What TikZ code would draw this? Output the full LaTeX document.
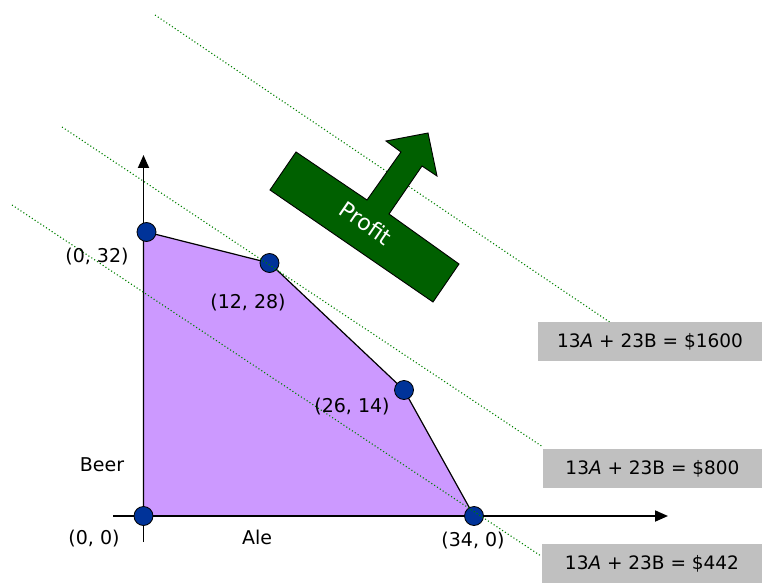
\documentclass[tikz,border=0pt]{standalone}
\usepackage{fontspec}
\setmainfont{DejaVu Sans}
\usetikzlibrary{arrows.meta}
\definecolor{feas}{HTML}{CC99FF}
\definecolor{ptblue}{HTML}{003399}
\definecolor{profitgreen}{HTML}{006000}
\definecolor{boxgray}{HTML}{C0C0C0}
\definecolor{dotgreen}{HTML}{008000}
\begin{document}
\begin{tikzpicture}[x=1pt,y=-1pt,
  vertex/.style={circle,draw=black,fill=ptblue,minimum size=19pt,inner sep=0pt,line width=0.8pt},
  lbl/.style={font=\fontsize{19}{22}\selectfont,inner sep=0pt},
  eqbox/.style={fill=boxgray,minimum height=39pt,inner sep=0pt,font=\fontsize{18.5}{22}\selectfont},
  isoline/.style={dotgreen,line width=1.1pt,dash pattern=on 1.1pt off 2.3pt},
  axisline/.style={line width=1.8pt,-{Triangle[length=13pt,width=11pt]}}]
\useasboundingbox (0,0) rectangle (762,588);

% corner coordinates
\coordinate (O) at (143.5,516);
\coordinate (Ax) at (143.5,232);
\coordinate (A) at (146.5,232);
\coordinate (B) at (269.5,263);
\coordinate (C) at (404,390);
\coordinate (D) at (474,516);

% feasible region
\draw[fill=feas,line width=1.2pt,line join=round] (O) -- (Ax) -- (A) -- (B) -- (C) -- (D) -- cycle;

% axes
\coordinate (ybot) at (143.5,542);
\coordinate (ytop) at (143.5,155);
\coordinate (xleft) at (113,516);
\coordinate (xright) at (668,516);
\draw[axisline] (ybot) -- (ytop);
\draw[axisline] (xleft) -- (xright);

% vertices
\node[vertex] (vO) at (O) {};
\node[vertex] (vA) at (A) {};
\node[vertex] (vB) at (B) {};
\node[vertex] (vC) at (C) {};
\node[vertex] (vD) at (D) {};

% iso-profit lines
\coordinate (l1s) at (12,205);
\coordinate (l1e) at (541,556);
\coordinate (l2s) at (62,127);
\coordinate (l2e) at (543,447);
\coordinate (l3s) at (155,15);
\coordinate (l3e) at (611,323);
\draw[isoline] (l1s) -- (l1e);
\draw[isoline] (l2s) -- (l2e);
\draw[isoline] (l3s) -- (l3e);

% profit arrow
\draw[fill=profitgreen,line width=0.9pt,line join=miter]
  (296,152) -- (367,200) -- (401,152) -- (386,141) -- (428,133) -- (437,176)
  -- (422,166) -- (389,214) -- (459,264) -- (433,302) -- (270,190) -- cycle;
\node[text=white,rotate=-34.5,inner sep=0pt,font=\fontsize{22}{24}\selectfont] (profit) at (366,223) {Profit};

% equation boxes
\node[eqbox,minimum width=224pt] (e1600) at (650,341.5) {13\textit{A} + 23B = \$1600};
\node[eqbox,minimum width=219pt] (e800) at (652.5,468.5) {13\textit{A} + 23B = \$800};
\node[eqbox,minimum width=220pt] (e442) at (652,563.5) {13\textit{A} + 23B = \$442};

% labels
\node[lbl] (tA) at (97,257) {(0, 32)};
\node[lbl] (tB) at (248,303) {(12, 28)};
\node[lbl] (tC) at (352,407) {(26, 14)};
\node[lbl] (tO) at (94,539) {(0, 0)};
\node[lbl] (tD) at (473,541) {(34, 0)};
\node[lbl] (beer) at (102,465) {Beer};
\node[lbl] (ale) at (257,537) {Ale};
\end{tikzpicture}
\end{document}
